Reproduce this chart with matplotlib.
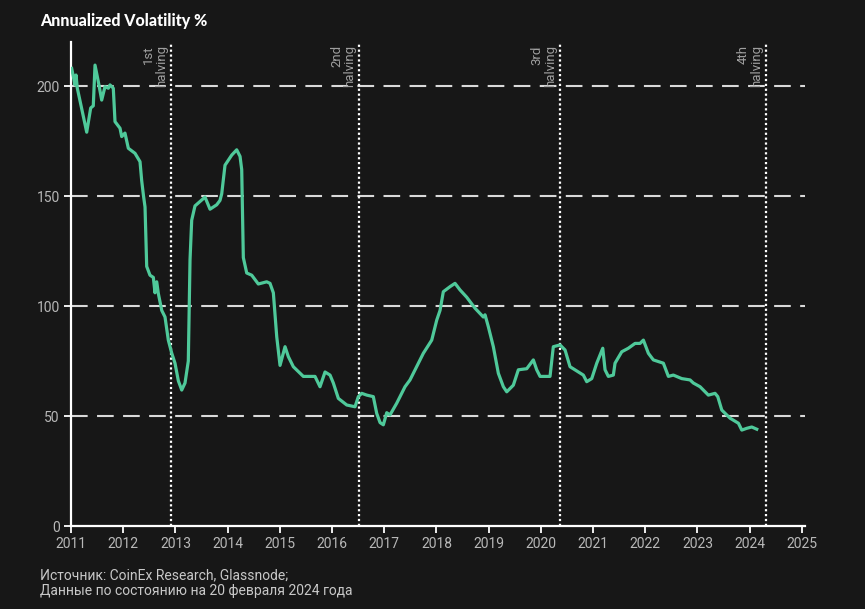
import matplotlib
matplotlib.use("Agg")
import matplotlib.pyplot as plt
from matplotlib import font_manager

# ---- data (decimal year, annualized volatility %) ----
years = [2011.013, 2011.077, 2011.096, 2011.121, 2011.301, 2011.377, 2011.427, 2011.460,
         2011.523, 2011.588, 2011.651, 2011.715, 2011.747, 2011.810, 2011.843, 2011.939,
         2011.971, 2012.034, 2012.098, 2012.226, 2012.322, 2012.354, 2012.389, 2012.418,
         2012.450, 2012.513, 2012.577, 2012.609, 2012.642, 2012.672, 2012.738, 2012.801,
         2012.864, 2012.929, 2012.992, 2013.056, 2013.121, 2013.184, 2013.247, 2013.280,
         2013.312, 2013.375, 2013.471, 2013.567, 2013.663, 2013.791, 2013.854, 2013.887,
         2013.950, 2014.079, 2014.174, 2014.238, 2014.270, 2014.301, 2014.366, 2014.462,
         2014.588, 2014.749, 2014.812, 2014.876, 2014.941, 2015.004, 2015.100, 2015.163,
         2015.259, 2015.450, 2015.579, 2015.674, 2015.770, 2015.866, 2015.962, 2016.025,
         2016.121, 2016.282, 2016.441, 2016.504, 2016.569, 2016.665, 2016.791, 2016.856,
         2016.920, 2016.983, 2017.048, 2017.111, 2017.239, 2017.398, 2017.494, 2017.558,
         2017.686, 2017.749, 2017.910, 2018.006, 2018.069, 2018.132, 2018.261, 2018.356,
         2018.452, 2018.580, 2018.739, 2018.898, 2018.931, 2018.994, 2019.090, 2019.186,
         2019.282, 2019.347, 2019.473, 2019.569, 2019.730, 2019.856, 2019.921, 2019.985,
         2020.176, 2020.239, 2020.368, 2020.464, 2020.559, 2020.718, 2020.814, 2020.879,
         2020.975, 2021.071, 2021.186, 2021.230, 2021.293, 2021.389, 2021.421, 2021.550,
         2021.676, 2021.805, 2021.900, 2021.964, 2022.060, 2022.155, 2022.347, 2022.443,
         2022.538, 2022.699, 2022.858, 2022.921, 2023.050, 2023.209, 2023.337, 2023.389,
         2023.466, 2023.625, 2023.785, 2023.849, 2023.944, 2024.040, 2024.136]
volatility = [208, 200.5, 205, 199, 179, 190, 191, 209.5,
              202, 193.6, 199.7, 199, 200.5, 199, 183.8, 180.8,
              177, 178.6, 171.7, 169.4, 165.6, 157, 150, 145,
              118, 114, 113, 106, 111, 105.8, 98, 95,
              84.5, 78.6, 74, 66, 61.8, 65, 75, 121,
              139, 145.5, 147.5, 149.5, 144, 146, 148, 151,
              164, 168.6, 171, 168, 162, 122, 115, 114,
              110, 111, 110.3, 106, 86, 73, 81.5, 77,
              72.4, 68, 68, 68, 63.3, 70, 68.6, 65,
              58, 55, 54.2, 58.8, 60.3, 59.5, 58.8, 51.2,
              47, 46, 51.5, 50.5, 55.8, 63.3, 66.4, 69.4,
              75.5, 78.5, 84.5, 93.6, 98, 106.5, 108.8, 110.3,
              107.3, 104, 99, 95, 96, 90.6, 81.5, 69.4,
              63.3, 61, 64, 71, 71.5, 75.5, 71, 68,
              68, 81.5, 82.3, 80, 72.4, 70, 68.6, 65.6,
              67, 74, 80.8, 71, 68, 68.6, 74, 79.2,
              80.8, 83, 83, 84.5, 78.5, 75.5, 74, 68,
              68.6, 67, 66.4, 65, 63.3, 59.5, 60.3, 58.8,
              52.7, 49, 46.7, 43.6, 44.4, 45, 44]

halving_dates = [2012.91, 2016.52, 2020.36, 2024.31]
halving_labels = ["1st\nhalving", "2nd\nhalving", "3rd\nhalving", "4th\nhalving"]
xticks = list(range(2011, 2026))
yticks = [0, 50, 100, 150, 200]

# ---- font ----
def pick(fams):
    for f in fams:
        try:
            font_manager.findfont(f, fallback_to_default=False)
            return f
        except Exception:
            continue
    return "DejaVu Sans"

narrow = pick(["Liberation Sans Narrow", "Roboto", "DejaVu Sans"])
bold = pick(["Lato", "Open Sans", "DejaVu Sans"])

BG = "#171717"
LINE = "#4fc99a"
TXT = "#b8b8b8"

fig = plt.figure(figsize=(8.65, 6.09), dpi=100, facecolor=BG)
ax = fig.add_axes([71 / 865, 1 - 526 / 609, 734 / 865, 484 / 609], facecolor=BG)

for y in yticks[1:]:
    ax.axhline(y, color="#d9d9d9", lw=1.5, dashes=(8, 4.5), zorder=1)

for d, lab in zip(halving_dates, halving_labels):
    ax.axvline(d, color="white", lw=1.6, ls=(0, (1, 1.2)), zorder=2)
    ax.text(d - 0.05, 218.5, lab, rotation=90, ha="right", va="top",
            multialignment="right", color="#a0a0a0", fontsize=9.5,
            family=narrow, linespacing=1.05, zorder=3)

ax.plot(years, volatility, color=LINE, lw=2.3, zorder=4, solid_joinstyle="round")

ax.set_xlim(2011, 2025.06)
ax.set_ylim(0, 220)
ax.set_xticks(xticks)
ax.set_xticklabels([str(x) for x in xticks])
ax.set_yticks(yticks)
ax.set_yticklabels([str(y) for y in yticks])
ax.tick_params(colors="white", labelcolor=TXT, labelsize=10, length=5, width=1.3, pad=3)
for lbl in ax.get_xticklabels() + ax.get_yticklabels():
    lbl.set_family(narrow)

for s in ["top", "right"]:
    ax.spines[s].set_visible(False)
for s in ["left", "bottom"]:
    ax.spines[s].set_color("white")
    ax.spines[s].set_linewidth(1.6)

fig.text(40 / 865, 1 - 21 / 609, "Annualized Volatility %", color="white",
         fontsize=11.5, fontweight="black", family=bold, ha="left", va="center")
fig.text(40 / 865, 1 - 575 / 609, "Источник: CoinEx Research, Glassnode;", color="#c8c8c8",
         fontsize=10, family=narrow, ha="left", va="center")
fig.text(40 / 865, 1 - 591 / 609, "Данные по состоянию на 20 февраля 2024 года", color="#c8c8c8",
         fontsize=10, family=narrow, ha="left", va="center")

fig.savefig("out.png", dpi=100, facecolor=BG)
